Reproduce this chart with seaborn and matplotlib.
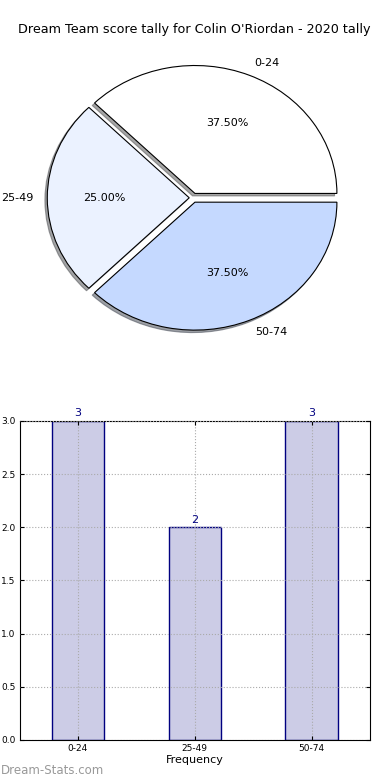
import seaborn as sns
import pandas as pd
import numpy as np
import matplotlib.pyplot as plt

# score bands and how often each occurred
bands = ['0-24', '25-49', '50-74']
counts = [3, 2, 3]
pie_colors = ['#FFFFFF', '#EBF2FF', '#C5D9FF']
explode = [0.037, 0.026, 0.037]

data = pd.DataFrame({'band': bands, 'count': counts})

fig = plt.figure(figsize=(3.9, 7.8), dpi=100)

# pie chart on top
ax1 = fig.add_axes([0.0397, 0.5414, 0.910, 0.410])
ax1.pie(data['count'], labels=data['band'], colors=pie_colors, explode=explode,
        autopct='%1.2f%%', startangle=0,
        shadow={'ox': -0.012, 'oy': -0.014, 'shade': 0.7},
        wedgeprops={'edgecolor': 'black', 'linewidth': 0.8},
        textprops={'fontsize': 8})
ax1.set_aspect('auto')
ax1.set_xlim(-1.25, 1.25)
ax1.set_ylim(-1.25, 1.25)

fig.text(0.497, 1 - 30 / 780, "Dream Team score tally for Colin O'Riordan - 2020 tally",
         ha='center', va='center', fontsize=9.2)

# bar chart below
ax2 = fig.add_axes([0.05, 0.0513, 0.899, 0.409])
sns.barplot(data=data, x='band', y='count', color='#CCCCE6', saturation=1,
            edgecolor='navy', linewidth=1, width=0.45, ax=ax2)
ax2.set_ylim(0, 3)
ax2.set_xlim(-0.5, 2.5)
ax2.set_yticks(np.arange(0, 3.01, 0.5))
ax2.set_yticklabels([f'{v:.1f}' for v in np.arange(0, 3.01, 0.5)])
ax2.grid(True, linestyle=':', color='#AAAAAA', linewidth=0.8)
ax2.set_axisbelow(False)
for p in ax2.patches:
    p.set_zorder(0.5)
ax2.tick_params(axis='both', direction='in', top=True, right=True, labelsize=6.5,
                length=3, pad=3)
ax2.set_xlabel('Frequency', fontsize=8, labelpad=1)
ax2.set_ylabel('')
ax2.bar_label(ax2.containers[0], color='navy', fontsize=8, padding=2)

fig.text(0.003, 1 - 770 / 780, 'Dream-Stats.com', color='#999999', fontsize=8.5,
         ha='left', va='center')

plt.savefig('out.png', dpi=100)
